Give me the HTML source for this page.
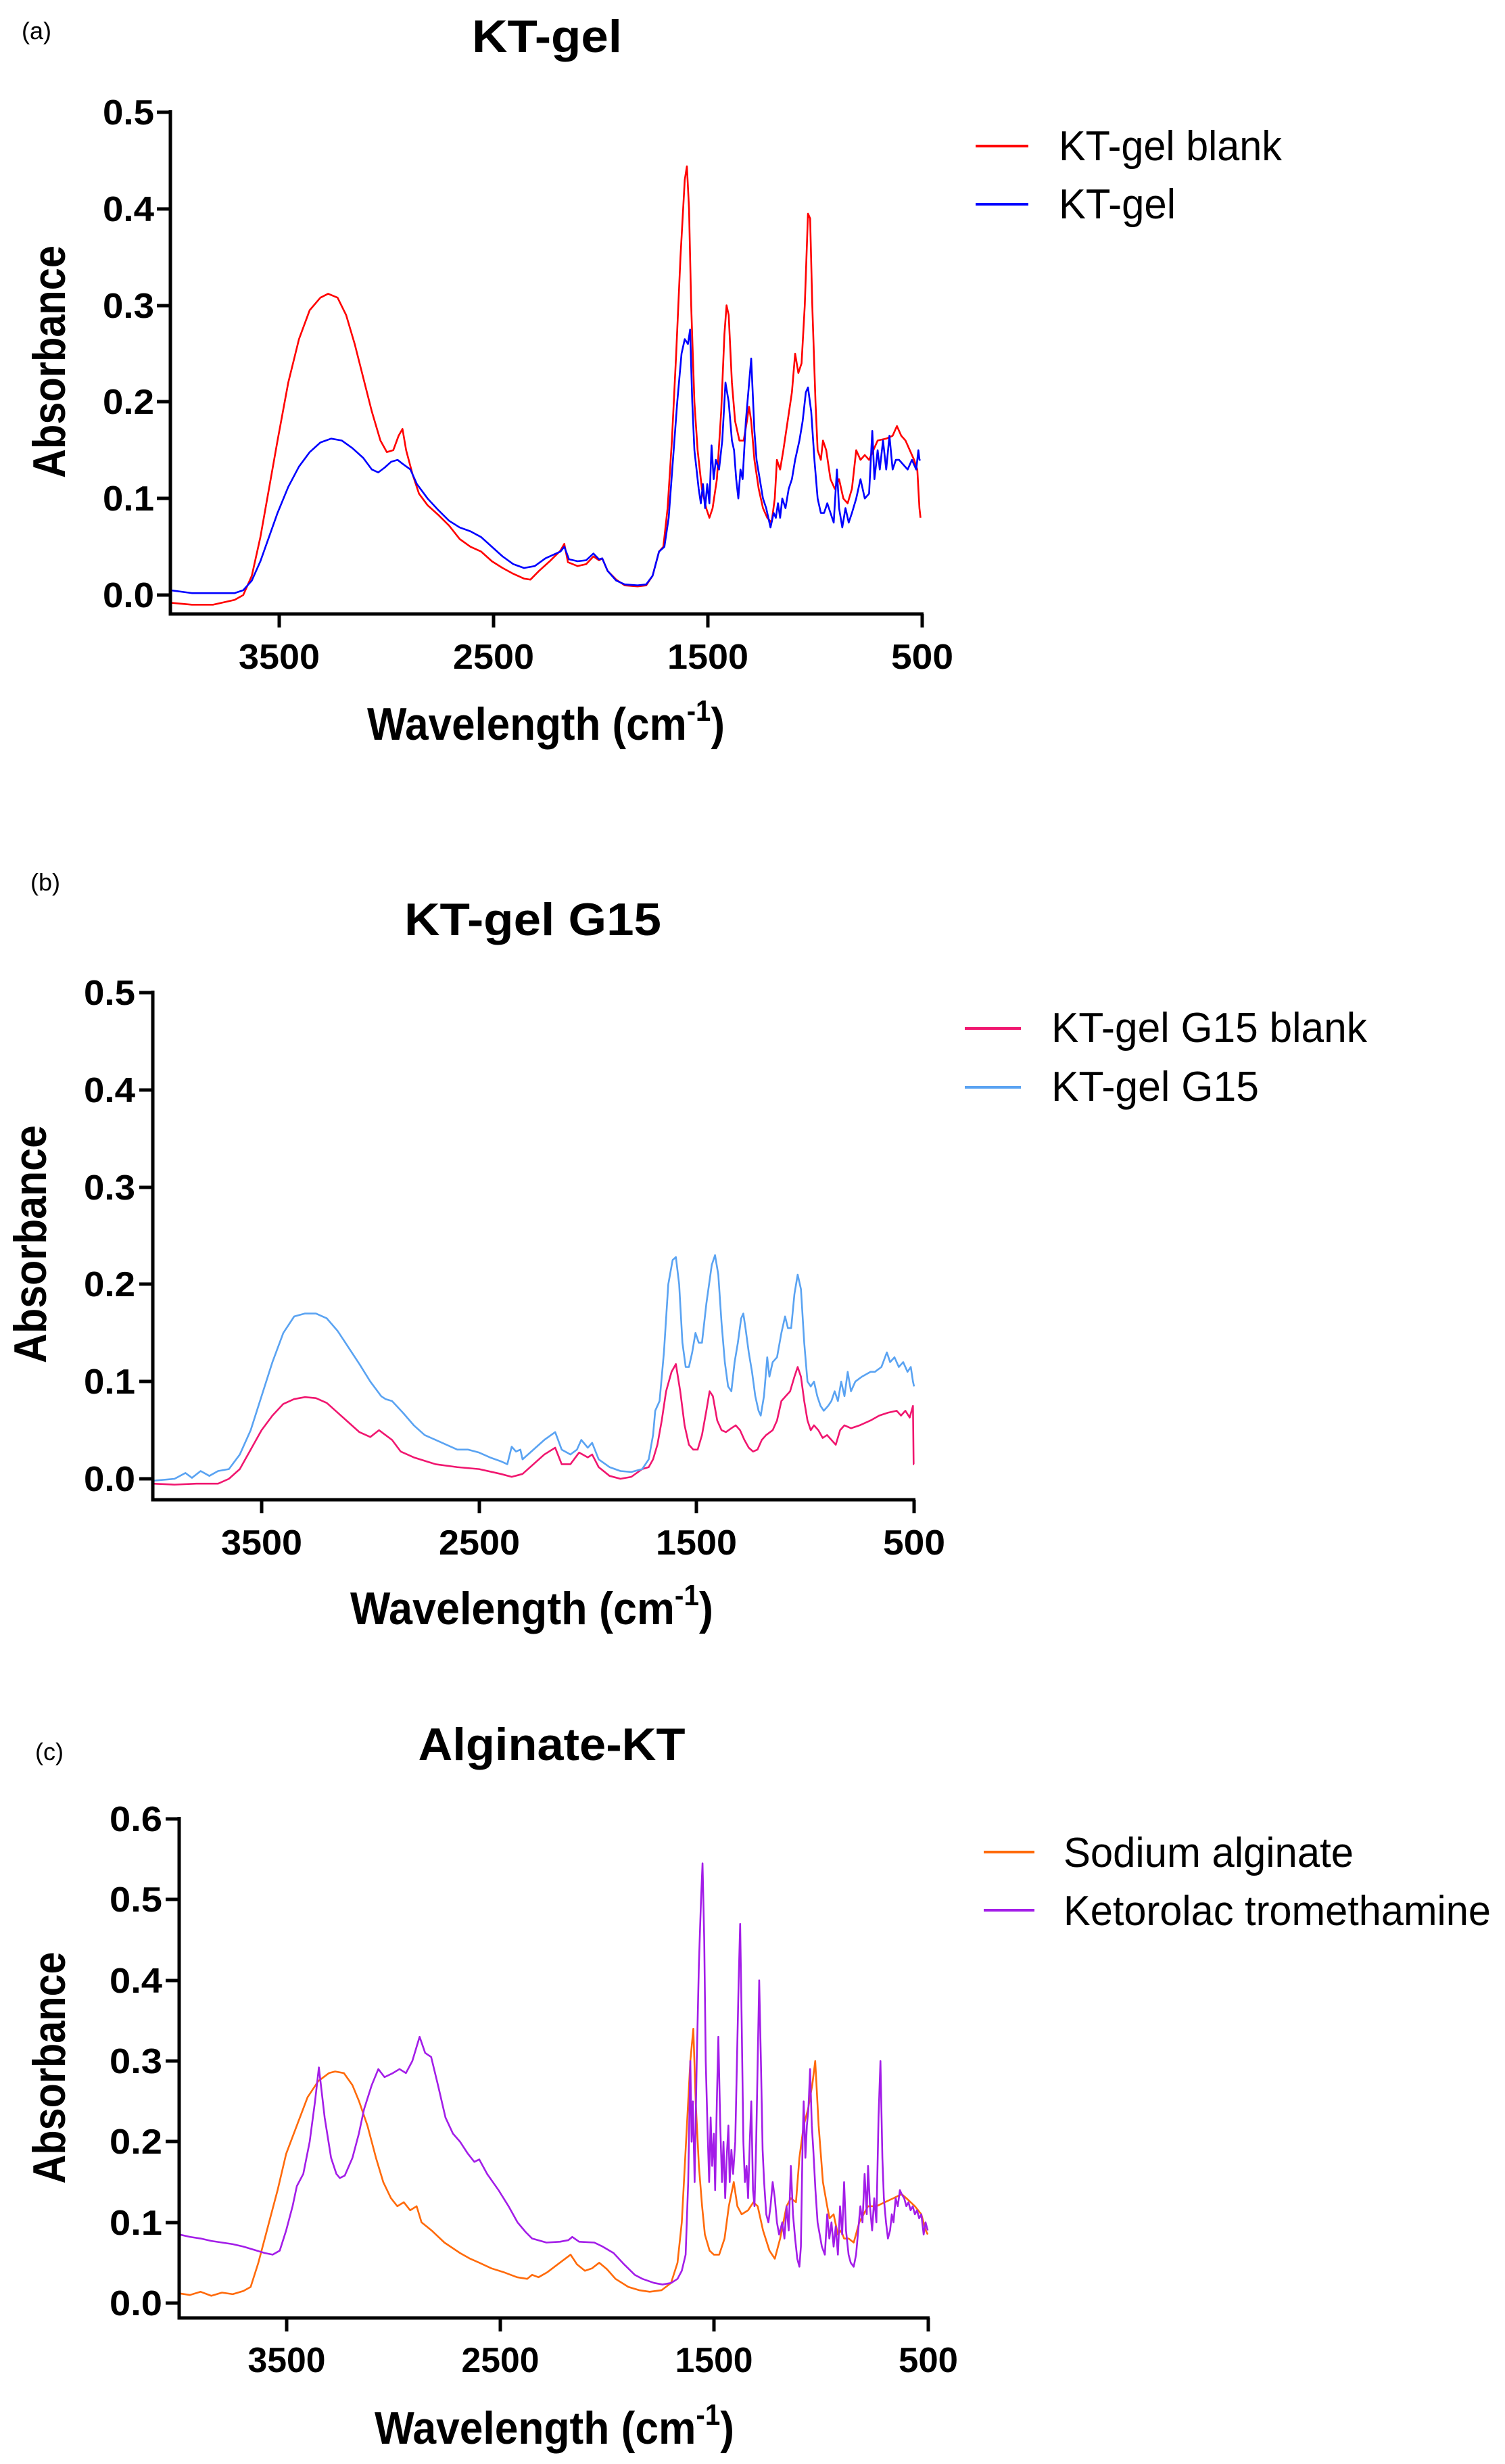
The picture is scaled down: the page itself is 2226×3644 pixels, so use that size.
<!DOCTYPE html>
<html><head><meta charset="utf-8"><style>
html,body{margin:0;padding:0;background:#fff}
svg{display:block}
text{font-family:"Liberation Sans",Arial,sans-serif}
.t{font-weight:bold;font-size:52px}
.ti{font-weight:bold;font-size:68px}
.ax{font-weight:bold;font-size:68px}
.lg{font-size:62px}
.pl{font-size:36px}
.s{fill:none;stroke-width:2.6;vector-effect:non-scaling-stroke;stroke-linejoin:round}
</style></head><body>
<svg width="2226" height="3644" viewBox="0 0 2226 3644" xmlns="http://www.w3.org/2000/svg">
<rect width="2226" height="3644" fill="#fff"/>

<!-- ================= PANEL A ================= -->
<text x="32" y="58" class="pl">(a)</text>
<text x="809" y="77" class="ti" text-anchor="middle" textLength="222" lengthAdjust="spacingAndGlyphs">KT-gel</text>
<g transform="matrix(-0.317 0 0 -1428 1520 880)">
<polyline class="s" stroke="#ff0000" points="4000,-0.008 3900,-0.01 3800,-0.01 3700,-0.005 3660,0 3620,0.02 3580,0.06 3540,0.11 3500,0.16 3450,0.22 3400,0.265 3350,0.295 3300,0.308 3264,0.312 3220,0.308 3180,0.29 3140,0.26 3100,0.225 3060,0.19 3020,0.16 2990,0.148 2960,0.15 2935,0.165 2917,0.172 2900,0.15 2870,0.125 2840,0.105 2800,0.093 2750,0.083 2700,0.072 2650,0.058 2600,0.05 2550,0.045 2500,0.035 2450,0.028 2400,0.022 2350,0.017 2320,0.016 2280,0.025 2230,0.035 2180,0.046 2162,0.053 2145,0.034 2100,0.03 2060,0.032 2026,0.04 2000,0.036 1985,0.038 1960,0.025 1920,0.016 1880,0.01 1820,0.009 1780,0.01 1750,0.02 1720,0.045 1700,0.05 1680,0.09 1660,0.16 1640,0.25 1620,0.35 1600,0.43 1590,0.444 1580,0.4 1570,0.3 1555,0.2 1540,0.15 1520,0.11 1500,0.09 1485,0.08 1470,0.09 1450,0.12 1430,0.19 1415,0.27 1405,0.3 1395,0.29 1380,0.22 1365,0.18 1345,0.16 1325,0.16 1310,0.18 1300,0.195 1290,0.18 1275,0.14 1255,0.11 1235,0.09 1215,0.08 1195,0.075 1180,0.1 1170,0.14 1155,0.13 1140,0.15 1120,0.18 1100,0.21 1085,0.25 1070,0.23 1055,0.24 1040,0.3 1025,0.395 1015,0.39 1005,0.3 990,0.2 980,0.15 965,0.14 955,0.16 940,0.15 920,0.12 900,0.11 880,0.12 860,0.1 840,0.095 820,0.11 800,0.15 780,0.14 760,0.145 740,0.14 720,0.15 700,0.16 660,0.162 630,0.165 610,0.175 590,0.165 570,0.16 550,0.15 530,0.14 515,0.13 505,0.09 500,0.08"/>
<polyline class="s" stroke="#0000ff" points="4000,0.005 3900,0.002 3700,0.002 3660,0.005 3620,0.015 3580,0.035 3540,0.06 3500,0.085 3450,0.112 3400,0.133 3350,0.148 3300,0.158 3250,0.162 3200,0.16 3150,0.152 3100,0.142 3060,0.13 3030,0.127 3000,0.132 2970,0.138 2940,0.14 2917,0.136 2880,0.13 2850,0.115 2800,0.1 2750,0.088 2700,0.077 2650,0.07 2600,0.066 2550,0.06 2500,0.05 2450,0.04 2400,0.032 2350,0.028 2300,0.03 2250,0.038 2180,0.045 2162,0.05 2140,0.037 2100,0.035 2060,0.036 2026,0.043 2000,0.037 1985,0.038 1960,0.025 1920,0.015 1880,0.011 1820,0.01 1780,0.011 1750,0.02 1720,0.045 1695,0.05 1675,0.08 1655,0.14 1635,0.2 1615,0.25 1600,0.265 1585,0.26 1575,0.275 1565,0.2 1555,0.15 1545,0.13 1535,0.11 1525,0.095 1515,0.115 1505,0.09 1495,0.115 1485,0.095 1475,0.155 1465,0.12 1455,0.14 1440,0.13 1425,0.16 1410,0.22 1395,0.2 1380,0.16 1370,0.15 1360,0.12 1350,0.1 1340,0.13 1330,0.12 1315,0.18 1290,0.245 1275,0.17 1265,0.14 1250,0.12 1235,0.1 1220,0.09 1200,0.07 1185,0.085 1175,0.08 1165,0.095 1155,0.08 1145,0.1 1130,0.09 1115,0.11 1100,0.12 1085,0.14 1065,0.16 1050,0.18 1035,0.21 1025,0.215 1010,0.19 995,0.14 980,0.1 965,0.085 950,0.085 935,0.095 920,0.085 905,0.075 890,0.13 880,0.09 865,0.07 850,0.09 835,0.075 820,0.085 800,0.1 780,0.12 760,0.1 740,0.105 725,0.17 715,0.12 700,0.15 690,0.13 675,0.16 660,0.13 645,0.165 630,0.13 615,0.14 600,0.14 580,0.135 560,0.13 540,0.14 520,0.13 510,0.15 505,0.14 500,0.14"/>
</g>
<g stroke="#000" stroke-width="5" fill="none">
<path d="M252,163 V908 H1366"/>
<path d="M232,166 H252 M232,309 H252 M232,452 H252 M232,594 H252 M232,737 H252 M232,880 H252"/>
<path d="M413,908 V928 M730,908 V928 M1047,908 V928 M1364,908 V928"/>
</g>
<g class="t" text-anchor="end">
<text x="228" y="184" textLength="76" lengthAdjust="spacingAndGlyphs">0.5</text>
<text x="228" y="327" textLength="76" lengthAdjust="spacingAndGlyphs">0.4</text>
<text x="228" y="470" textLength="76" lengthAdjust="spacingAndGlyphs">0.3</text>
<text x="228" y="612" textLength="76" lengthAdjust="spacingAndGlyphs">0.2</text>
<text x="228" y="755" textLength="76" lengthAdjust="spacingAndGlyphs">0.1</text>
<text x="228" y="898" textLength="76" lengthAdjust="spacingAndGlyphs">0.0</text>
</g>
<g class="t" text-anchor="middle">
<text x="413" y="989" textLength="120" lengthAdjust="spacingAndGlyphs">3500</text>
<text x="730" y="989" textLength="120" lengthAdjust="spacingAndGlyphs">2500</text>
<text x="1047" y="989" textLength="120" lengthAdjust="spacingAndGlyphs">1500</text>
<text x="1364" y="989" textLength="92" lengthAdjust="spacingAndGlyphs">500</text>
</g>
<text x="543" y="1094" class="ax" textLength="529" lengthAdjust="spacingAndGlyphs">Wavelength (cm<tspan font-size="44" dy="-28">-1</tspan><tspan dy="28">)</tspan></text>
<text transform="translate(96,535) rotate(-90)" class="ax" text-anchor="middle" textLength="344" lengthAdjust="spacingAndGlyphs">Absorbance</text>
<line x1="1443" y1="216" x2="1521" y2="216" stroke="#ff0000" stroke-width="4"/>
<line x1="1443" y1="302" x2="1521" y2="302" stroke="#0000ff" stroke-width="4"/>
<text x="1566" y="237" class="lg" textLength="330" lengthAdjust="spacingAndGlyphs">KT-gel blank</text>
<text x="1566" y="323" class="lg" textLength="173" lengthAdjust="spacingAndGlyphs">KT-gel</text>

<!-- ================= PANEL B ================= -->
<text x="45" y="1317" class="pl">(b)</text>
<text x="788" y="1383" class="ti" text-anchor="middle" textLength="380" lengthAdjust="spacingAndGlyphs">KT-gel G15</text>
<g transform="matrix(-0.3217 0 0 -1438 1512.8 2187)">
<polyline class="s" stroke="#f0166f" points="4000,-0.005 3900,-0.006 3800,-0.005 3700,-0.005 3650,0 3600,0.01 3550,0.03 3500,0.05 3450,0.065 3400,0.077 3350,0.082 3300,0.084 3250,0.083 3200,0.078 3150,0.068 3100,0.058 3050,0.048 3000,0.043 2960,0.05 2930,0.045 2900,0.04 2860,0.028 2800,0.022 2700,0.015 2600,0.012 2500,0.01 2400,0.005 2350,0.002 2300,0.005 2250,0.015 2200,0.025 2150,0.032 2120,0.015 2080,0.015 2040,0.027 2000,0.022 1980,0.025 1950,0.012 1900,0.003 1850,0 1800,0.002 1750,0.01 1720,0.012 1700,0.02 1680,0.035 1660,0.06 1640,0.09 1615,0.11 1595,0.118 1575,0.09 1555,0.055 1535,0.035 1515,0.03 1495,0.03 1475,0.045 1455,0.07 1440,0.09 1425,0.085 1405,0.06 1385,0.05 1365,0.048 1340,0.052 1320,0.055 1300,0.05 1280,0.04 1260,0.032 1240,0.028 1220,0.03 1200,0.04 1180,0.045 1150,0.05 1130,0.06 1110,0.08 1090,0.085 1070,0.09 1050,0.105 1035,0.115 1020,0.105 1005,0.08 990,0.06 975,0.05 960,0.055 940,0.05 920,0.042 900,0.045 880,0.04 860,0.035 840,0.05 820,0.055 790,0.052 750,0.055 700,0.06 660,0.065 620,0.068 580,0.07 560,0.065 540,0.07 520,0.063 505,0.075 502,0.015 500,0.015"/>
<polyline class="s" stroke="#5aa3f2" points="4000,-0.002 3900,0 3850,0.006 3820,0.001 3780,0.008 3740,0.003 3700,0.008 3650,0.01 3600,0.025 3550,0.05 3500,0.085 3450,0.12 3400,0.15 3350,0.167 3300,0.17 3250,0.17 3200,0.165 3150,0.152 3100,0.135 3050,0.118 3000,0.1 2950,0.085 2930,0.082 2900,0.08 2850,0.068 2800,0.055 2750,0.045 2700,0.04 2600,0.03 2550,0.03 2500,0.027 2450,0.022 2400,0.018 2370,0.015 2350,0.033 2330,0.028 2310,0.03 2300,0.02 2250,0.03 2200,0.04 2150,0.048 2120,0.03 2080,0.025 2050,0.03 2030,0.04 2000,0.032 1980,0.037 1950,0.02 1900,0.012 1850,0.008 1800,0.007 1750,0.01 1720,0.02 1700,0.045 1690,0.07 1670,0.08 1650,0.13 1630,0.2 1610,0.225 1595,0.228 1580,0.2 1565,0.14 1550,0.115 1535,0.115 1520,0.13 1505,0.15 1490,0.14 1475,0.14 1455,0.18 1430,0.22 1415,0.23 1400,0.21 1385,0.16 1370,0.12 1355,0.095 1340,0.09 1325,0.12 1310,0.14 1295,0.165 1285,0.17 1275,0.155 1260,0.13 1245,0.11 1230,0.085 1215,0.07 1205,0.065 1190,0.085 1175,0.125 1165,0.105 1150,0.12 1130,0.125 1110,0.15 1093,0.167 1080,0.155 1065,0.155 1050,0.19 1035,0.21 1020,0.195 1005,0.14 990,0.1 975,0.095 960,0.1 945,0.085 930,0.075 915,0.07 895,0.075 880,0.08 865,0.09 850,0.08 835,0.1 820,0.085 805,0.11 790,0.09 770,0.1 740,0.105 700,0.11 680,0.11 650,0.115 625,0.13 610,0.12 590,0.125 570,0.115 550,0.12 530,0.11 515,0.115 505,0.1 500,0.095"/>
</g>
<g stroke="#000" stroke-width="5" fill="none">
<path d="M226,1465 V2218 H1354"/>
<path d="M206,1468 H226 M206,1612 H226 M206,1756 H226 M206,1899 H226 M206,2043 H226 M206,2187 H226"/>
<path d="M387,2218 V2238 M709,2218 V2238 M1030,2218 V2238 M1352,2218 V2238"/>
</g>
<g class="t" text-anchor="end">
<text x="200" y="1486" textLength="76" lengthAdjust="spacingAndGlyphs">0.5</text>
<text x="200" y="1630" textLength="76" lengthAdjust="spacingAndGlyphs">0.4</text>
<text x="200" y="1774" textLength="76" lengthAdjust="spacingAndGlyphs">0.3</text>
<text x="200" y="1917" textLength="76" lengthAdjust="spacingAndGlyphs">0.2</text>
<text x="200" y="2061" textLength="76" lengthAdjust="spacingAndGlyphs">0.1</text>
<text x="200" y="2205" textLength="76" lengthAdjust="spacingAndGlyphs">0.0</text>
</g>
<g class="t" text-anchor="middle">
<text x="387" y="2299" textLength="120" lengthAdjust="spacingAndGlyphs">3500</text>
<text x="709" y="2299" textLength="120" lengthAdjust="spacingAndGlyphs">2500</text>
<text x="1030" y="2299" textLength="120" lengthAdjust="spacingAndGlyphs">1500</text>
<text x="1352" y="2299" textLength="92" lengthAdjust="spacingAndGlyphs">500</text>
</g>
<text x="518" y="2402" class="ax" textLength="537" lengthAdjust="spacingAndGlyphs">Wavelength (cm<tspan font-size="44" dy="-28">-1</tspan><tspan dy="28">)</tspan></text>
<text transform="translate(68,1840) rotate(-90)" class="ax" text-anchor="middle" textLength="352" lengthAdjust="spacingAndGlyphs">Absorbance</text>
<line x1="1427" y1="1521" x2="1510" y2="1521" stroke="#f0166f" stroke-width="4"/>
<line x1="1427" y1="1608" x2="1510" y2="1608" stroke="#5aa3f2" stroke-width="4"/>
<text x="1555" y="1541" class="lg" textLength="467" lengthAdjust="spacingAndGlyphs">KT-gel G15 blank</text>
<text x="1555" y="1628" class="lg" textLength="307" lengthAdjust="spacingAndGlyphs">KT-gel G15</text>

<!-- ================= PANEL C ================= -->
<text x="52" y="2603" class="pl">(c)</text>
<text x="816" y="2603" class="ti" text-anchor="middle" textLength="395" lengthAdjust="spacingAndGlyphs">Alginate-KT</text>
<g transform="matrix(-0.3163 0 0 -1193.3 1530.3 3406)">
<polyline class="s" stroke="#ff6a0a" points="4000,0.012 3950,0.01 3900,0.014 3850,0.009 3800,0.013 3750,0.011 3700,0.015 3666,0.02 3630,0.05 3590,0.09 3540,0.14 3500,0.185 3450,0.22 3400,0.255 3350,0.275 3300,0.285 3271,0.287 3230,0.285 3190,0.27 3159,0.25 3120,0.22 3080,0.18 3046,0.15 3010,0.13 2980,0.12 2950,0.125 2920,0.115 2890,0.12 2867,0.1 2820,0.09 2760,0.075 2687,0.062 2640,0.055 2597,0.05 2540,0.043 2480,0.038 2420,0.032 2373,0.03 2350,0.035 2320,0.032 2280,0.038 2230,0.048 2170,0.06 2140,0.048 2103,0.04 2070,0.043 2036,0.05 2000,0.042 1960,0.03 1900,0.02 1850,0.016 1800,0.014 1744,0.016 1700,0.025 1670,0.05 1650,0.1 1630,0.2 1610,0.3 1596,0.34 1585,0.25 1570,0.17 1555,0.12 1542,0.085 1520,0.065 1500,0.06 1475,0.06 1450,0.08 1430,0.12 1407,0.15 1390,0.12 1370,0.11 1340,0.115 1315,0.125 1295,0.12 1270,0.09 1240,0.065 1215,0.055 1190,0.08 1160,0.12 1140,0.13 1116,0.125 1100,0.18 1080,0.22 1060,0.24 1040,0.27 1026,0.3 1010,0.22 990,0.15 970,0.12 959,0.105 940,0.11 920,0.085 905,0.09 891,0.08 870,0.08 846,0.075 820,0.1 800,0.11 779,0.12 740,0.12 700,0.125 660,0.13 622,0.135 600,0.13 560,0.12 530,0.11 509,0.09 500,0.085"/>
<polyline class="s" stroke="#a31de8" points="4000,0.085 3950,0.082 3900,0.08 3850,0.077 3800,0.075 3750,0.073 3700,0.07 3650,0.066 3600,0.062 3563,0.06 3530,0.065 3500,0.09 3470,0.12 3450,0.145 3420,0.16 3390,0.2 3365,0.25 3347,0.292 3320,0.23 3290,0.18 3265,0.16 3249,0.155 3226,0.158 3190,0.18 3160,0.21 3136,0.24 3100,0.27 3069,0.29 3040,0.28 3001,0.285 2970,0.29 2940,0.285 2910,0.3 2876,0.33 2850,0.31 2822,0.305 2790,0.27 2755,0.23 2720,0.21 2687,0.2 2650,0.185 2620,0.175 2597,0.178 2560,0.16 2507,0.14 2460,0.12 2418,0.1 2380,0.088 2350,0.08 2283,0.075 2220,0.076 2180,0.078 2162,0.082 2130,0.076 2059,0.075 2020,0.07 1969,0.062 1920,0.048 1870,0.035 1834,0.03 1780,0.025 1740,0.023 1699,0.025 1670,0.03 1650,0.04 1632,0.06 1620,0.15 1610,0.3 1604,0.2 1598,0.25 1590,0.15 1580,0.3 1570,0.42 1560,0.5 1553,0.545 1545,0.45 1538,0.3 1530,0.22 1522,0.15 1515,0.23 1508,0.17 1500,0.21 1494,0.14 1486,0.25 1479,0.33 1470,0.22 1462,0.15 1455,0.2 1447,0.13 1440,0.18 1432,0.22 1426,0.15 1418,0.19 1410,0.16 1400,0.2 1392,0.3 1384,0.4 1377,0.47 1370,0.35 1362,0.2 1355,0.15 1347,0.17 1340,0.13 1332,0.2 1325,0.25 1317,0.14 1310,0.12 1302,0.2 1295,0.3 1288,0.4 1280,0.3 1272,0.19 1265,0.15 1255,0.11 1245,0.1 1235,0.12 1225,0.15 1215,0.13 1205,0.1 1195,0.085 1180,0.1 1170,0.08 1160,0.12 1150,0.09 1140,0.17 1130,0.11 1120,0.08 1110,0.055 1100,0.045 1093,0.07 1085,0.2 1080,0.25 1072,0.18 1065,0.22 1058,0.24 1050,0.29 1042,0.22 1035,0.19 1025,0.14 1015,0.1 1005,0.085 995,0.07 981,0.06 970,0.11 960,0.08 950,0.1 940,0.07 930,0.095 920,0.06 910,0.12 900,0.085 891,0.15 882,0.09 870,0.06 860,0.05 846,0.045 835,0.06 825,0.09 815,0.12 805,0.1 795,0.16 785,0.11 779,0.17 770,0.12 760,0.09 750,0.13 740,0.1 730,0.23 721,0.3 712,0.18 705,0.13 695,0.1 686,0.08 676,0.09 668,0.11 660,0.1 650,0.13 640,0.12 630,0.14 622,0.135 610,0.13 600,0.12 590,0.125 580,0.115 570,0.12 560,0.11 550,0.115 540,0.105 530,0.11 519,0.085 510,0.1 500,0.09"/>
</g>
<g stroke="#000" stroke-width="5" fill="none">
<path d="M265,2687 V3428 H1375"/>
<path d="M245,2690 H265 M245,2809 H265 M245,2929 H265 M245,3048 H265 M245,3167 H265 M245,3287 H265 M245,3406 H265"/>
<path d="M424,3428 V3448 M740,3428 V3448 M1056,3428 V3448 M1373,3428 V3448"/>
</g>
<g class="t" text-anchor="end">
<text x="240" y="2708" textLength="78" lengthAdjust="spacingAndGlyphs">0.6</text>
<text x="240" y="2827" textLength="78" lengthAdjust="spacingAndGlyphs">0.5</text>
<text x="240" y="2947" textLength="78" lengthAdjust="spacingAndGlyphs">0.4</text>
<text x="240" y="3066" textLength="78" lengthAdjust="spacingAndGlyphs">0.3</text>
<text x="240" y="3185" textLength="78" lengthAdjust="spacingAndGlyphs">0.2</text>
<text x="240" y="3305" textLength="78" lengthAdjust="spacingAndGlyphs">0.1</text>
<text x="240" y="3424" textLength="78" lengthAdjust="spacingAndGlyphs">0.0</text>
</g>
<g class="t" text-anchor="middle">
<text x="424" y="3508" textLength="115" lengthAdjust="spacingAndGlyphs">3500</text>
<text x="740" y="3508" textLength="115" lengthAdjust="spacingAndGlyphs">2500</text>
<text x="1056" y="3508" textLength="115" lengthAdjust="spacingAndGlyphs">1500</text>
<text x="1373" y="3508" textLength="88" lengthAdjust="spacingAndGlyphs">500</text>
</g>
<text x="554" y="3614" class="ax" textLength="532" lengthAdjust="spacingAndGlyphs">Wavelength (cm<tspan font-size="44" dy="-28">-1</tspan><tspan dy="28">)</tspan></text>
<text transform="translate(96,3058) rotate(-90)" class="ax" text-anchor="middle" textLength="343" lengthAdjust="spacingAndGlyphs">Absorbance</text>
<line x1="1455" y1="2739" x2="1530" y2="2739" stroke="#ff6a0a" stroke-width="4"/>
<line x1="1455" y1="2825" x2="1530" y2="2825" stroke="#a31de8" stroke-width="4"/>
<text x="1573" y="2761" class="lg" textLength="429" lengthAdjust="spacingAndGlyphs">Sodium alginate</text>
<text x="1573" y="2847" class="lg" textLength="632" lengthAdjust="spacingAndGlyphs">Ketorolac tromethamine</text>
</svg>
</body></html>
